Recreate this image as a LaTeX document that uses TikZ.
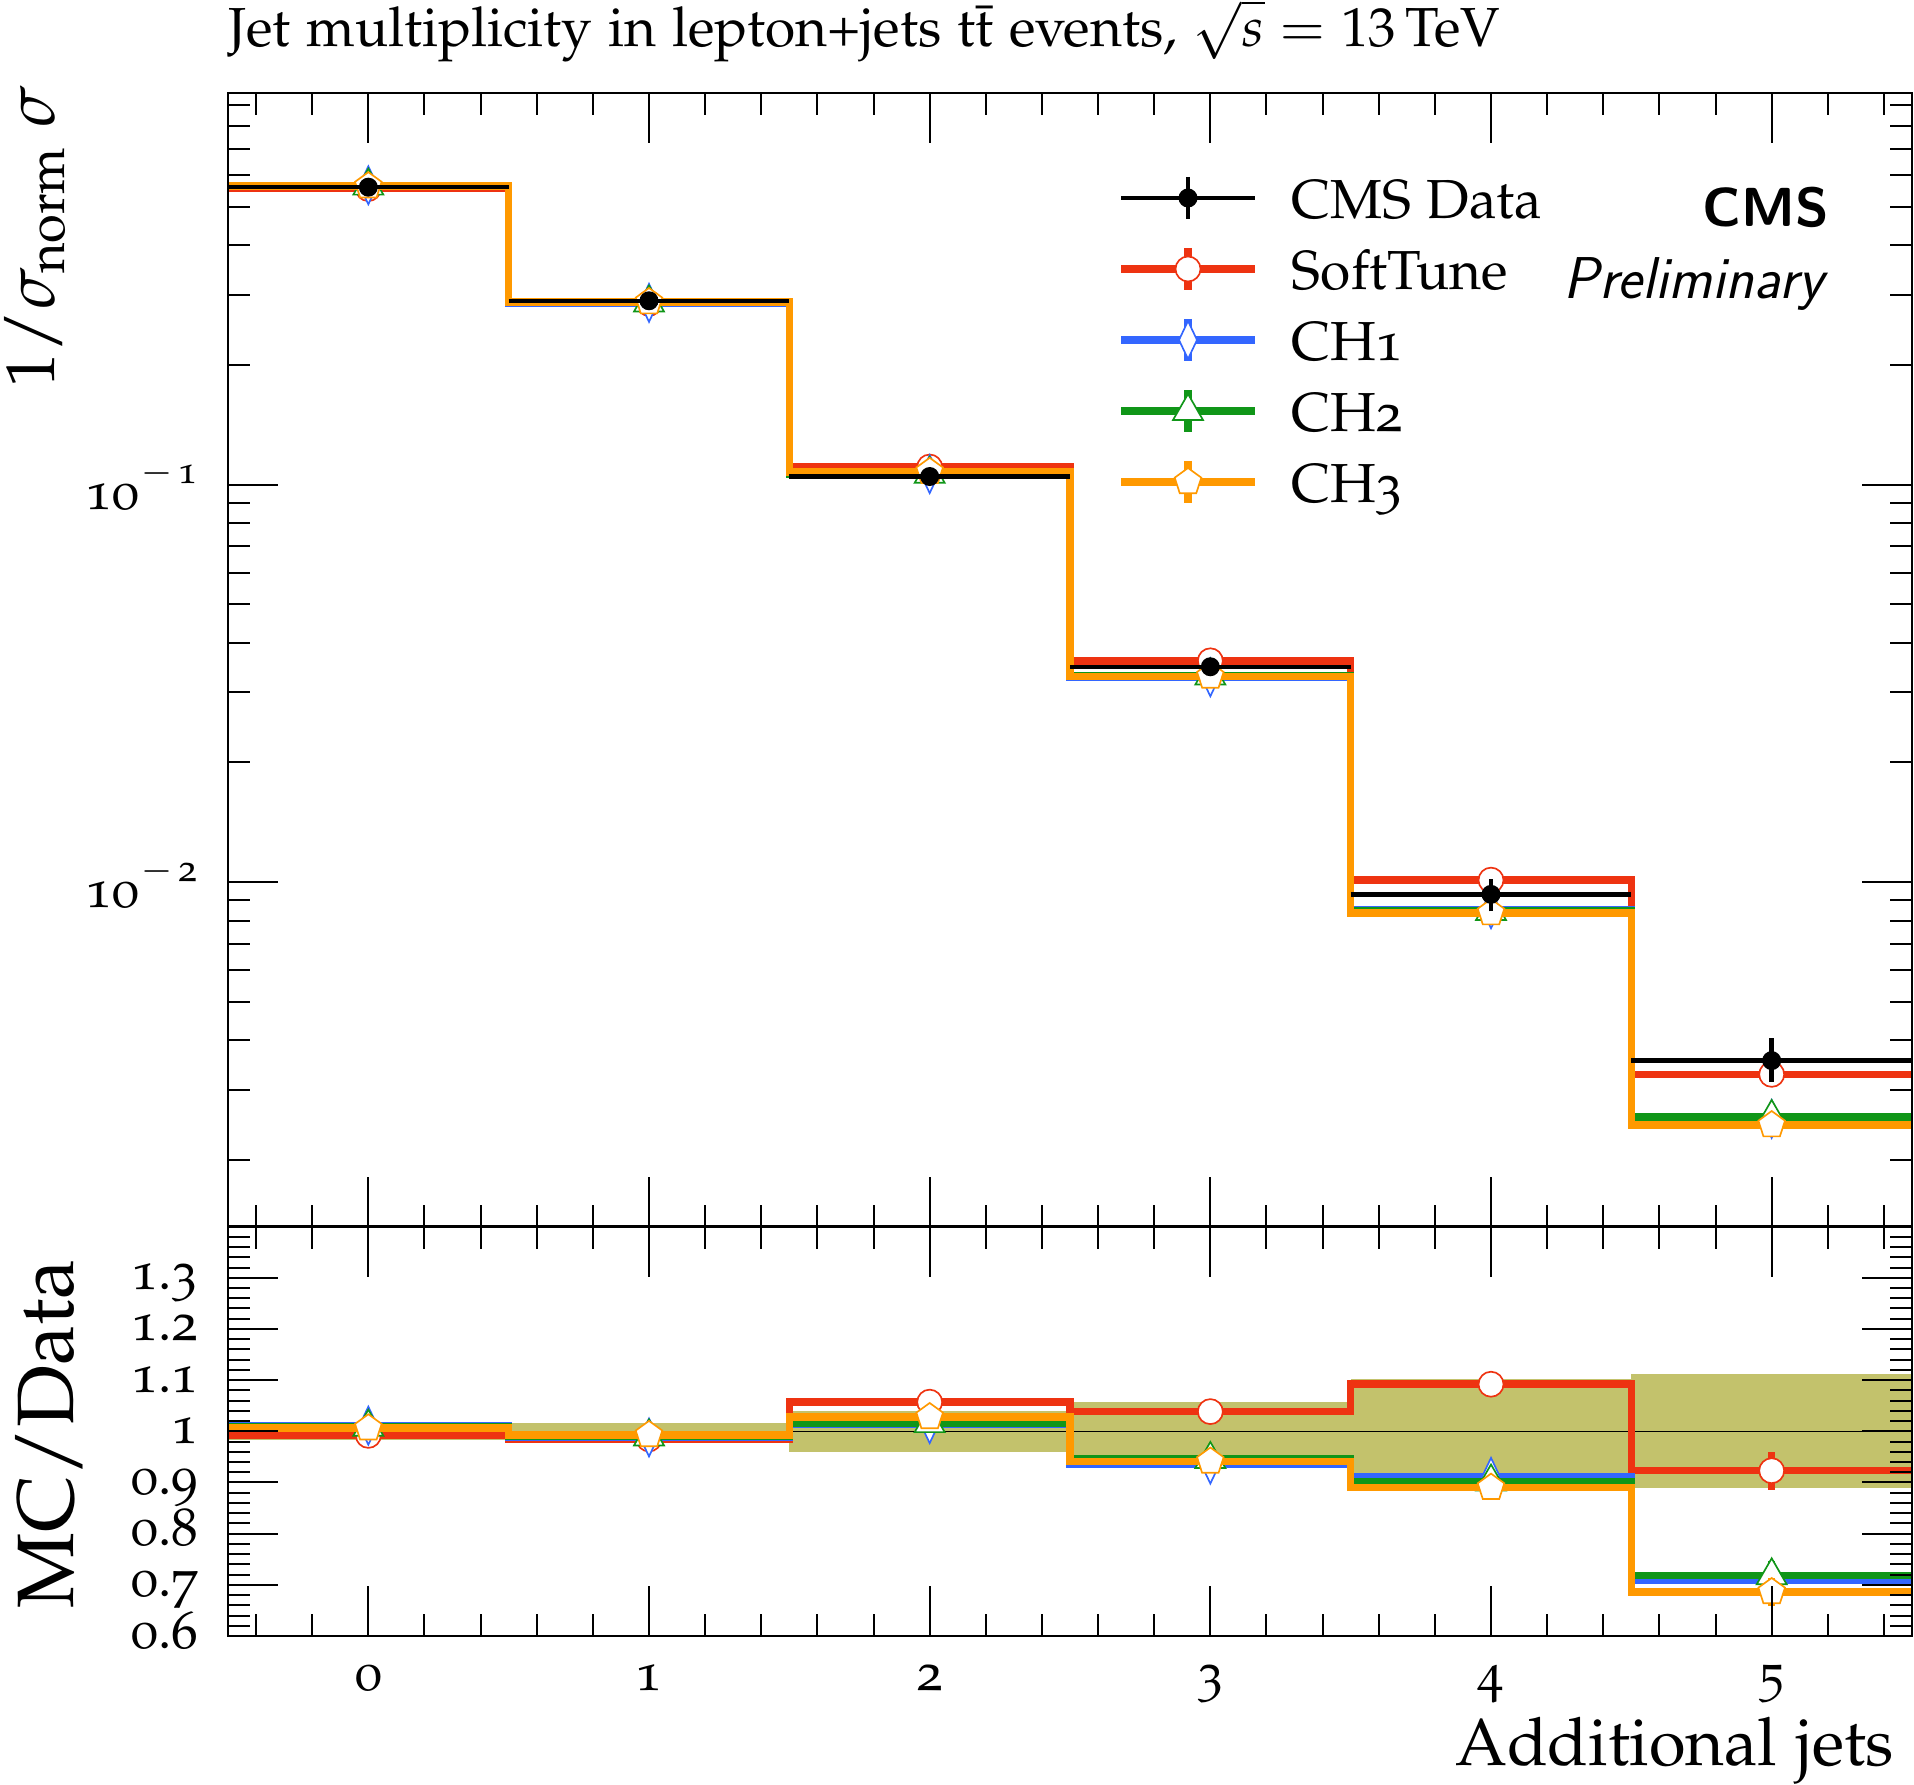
\documentclass[tikz,border=0pt]{standalone}
\usepackage{fix-cm}
\usepackage[T1]{fontenc}
\usepackage[osf]{mathpazo}
\definecolor{cRed}{HTML}{EE3311}
\definecolor{cBlue}{HTML}{3366FF}
\definecolor{cGreen}{HTML}{109618}
\definecolor{cOrange}{HTML}{FF9900}
\definecolor{cBand}{RGB}{195,194,108}
% data values
\def\dA{0.560}\def\dB{0.290}\def\dC{0.1047}\def\dD{0.0342}\def\dE{0.0092}\def\dF{0.00356}
% MC relative errors
\def\eA{0.004}\def\eB{0.006}\def\eC{0.01}\def\eD{0.015}\def\eE{0.022}\def\eF{0.04}
% pixel mappings
\newcommand\pxE[1]{(228+280.6667*(#1))}
\newcommand\pxC[1]{(368.3333+280.6667*(#1))}
\newcommand\pyM[1]{(484.6-397.5*(log10(#1)+1))}
\newcommand\pyR[1]{(1636-511.75*((#1)-0.6))}
\newcommand\supexp[1]{\kern0.6pt\raisebox{7.8pt}{\fontsize{11.5}{11.5}\selectfont$-$\kern1.5pt#1}}
\newcommand\cmsfont{\fontencoding{OT1}\fontfamily{cmss}\selectfont}
\tikzset{
  every node/.style={inner sep=0pt,outer sep=0pt},
  mcline/.style={line width=2.25pt},
  dataline/.style={line width=1.35pt},
  frameline/.style={line width=0.7pt},
  tickline/.style={line width=0.6pt},
  mkstyle/.style={line width=0.5pt,line join=miter},
  ticklab/.style={font=\fontsize{16}{19}\selectfont},
  legtext/.style={font=\fontsize{16.5}{20}\selectfont,anchor=base west},
}
\newcommand\mkCircle[2]{\draw[mkstyle,draw=#1,fill=white] (#2) circle[radius=12.5];}
\newcommand\mkDiamond[2]{\draw[mkstyle,draw=#1,fill=white] (#2) ++(0,-19) -- ++(9,19) -- ++(-9,19) -- ++(-9,-19) -- cycle;}
\newcommand\mkTriangle[2]{\draw[mkstyle,draw=#1,fill=white] (#2) ++(0,-17) -- ++(15,26) -- ++(-30,0) -- cycle;}
\newcommand\mkPentagon[2]{\draw[mkstyle,draw=#1,fill=white] (#2) ++(0,-14) -- ++(13.31,9.67) -- ++(-5.08,15.66) -- ++(-16.46,0) -- ++(-5.08,-15.66) -- cycle;}
% main-panel point: color, marker, bin, value, err
\newcommand\mcPt[5]{%
  \draw[mcline,#1] ({\pxC{#3}},{\pyM{(#4)*(1-#5)}}) -- ({\pxC{#3}},{\pyM{(#4)*(1+#5)}});
  \coordinate (mk) at ({\pxC{#3}},{\pyM{#4}}); #2{#1}{mk}}
% ratio-panel point: color, marker, bin, ratio, err
\newcommand\rcPt[5]{%
  \draw[mcline,#1] ({\pxC{#3}},{\pyR{(#4)*(1-#5)}}) -- ({\pxC{#3}},{\pyR{(#4)*(1+#5)}});
  \coordinate (mk) at ({\pxC{#3}},{\pyR{#4}}); #2{#1}{mk}}
\newcommand\drawMC[8]{%
  \draw[mcline,#1] ({\pxE{0}},{\pyM{\dA*#3}}) -- ({\pxE{1}},{\pyM{\dA*#3}})
    -- ({\pxE{1}},{\pyM{\dB*#4}}) -- ({\pxE{2}},{\pyM{\dB*#4}})
    -- ({\pxE{2}},{\pyM{\dC*#5}}) -- ({\pxE{3}},{\pyM{\dC*#5}})
    -- ({\pxE{3}},{\pyM{\dD*#6}}) -- ({\pxE{4}},{\pyM{\dD*#6}})
    -- ({\pxE{4}},{\pyM{\dE*#7}}) -- ({\pxE{5}},{\pyM{\dE*#7}})
    -- ({\pxE{5}},{\pyM{\dF*#8}}) -- ({\pxE{6}},{\pyM{\dF*#8}});
  \mcPt{#1}{#2}{0}{\dA*#3}{\eA}\mcPt{#1}{#2}{1}{\dB*#4}{\eB}\mcPt{#1}{#2}{2}{\dC*#5}{\eC}
  \mcPt{#1}{#2}{3}{\dD*#6}{\eD}\mcPt{#1}{#2}{4}{\dE*#7}{\eE}\mcPt{#1}{#2}{5}{\dF*#8}{\eF}
  \draw[mcline,#1] ({\pxE{0}},{\pyR{#3}}) -- ({\pxE{1}},{\pyR{#3}})
    -- ({\pxE{1}},{\pyR{#4}}) -- ({\pxE{2}},{\pyR{#4}})
    -- ({\pxE{2}},{\pyR{#5}}) -- ({\pxE{3}},{\pyR{#5}})
    -- ({\pxE{3}},{\pyR{#6}}) -- ({\pxE{4}},{\pyR{#6}})
    -- ({\pxE{4}},{\pyR{#7}}) -- ({\pxE{5}},{\pyR{#7}})
    -- ({\pxE{5}},{\pyR{#8}}) -- ({\pxE{6}},{\pyR{#8}});
  \rcPt{#1}{#2}{0}{#3}{\eA}\rcPt{#1}{#2}{1}{#4}{\eB}\rcPt{#1}{#2}{2}{#5}{\eC}
  \rcPt{#1}{#2}{3}{#6}{\eD}\rcPt{#1}{#2}{4}{#7}{\eE}\rcPt{#1}{#2}{5}{#8}{\eF}}
\begin{document}
\begin{tikzpicture}[x=0.3pt,y=-0.3pt]
\useasboundingbox (0,0) rectangle (1914,1785);
% ratio band
\foreach \i/\hu/\hd in {0/0.017/0.017,1/0.017/0.017,2/0.04/0.04,3/0.058/0.05,4/0.103/0.10,5/0.112/0.111}
  \fill[cBand] ({\pxE{\i}},{\pyR{1+\hu}}) rectangle ({\pxE{\i+1}},{\pyR{1-\hd}});
\draw[line width=0.45pt] (228,{\pyR{1}}) -- (1912,{\pyR{1}});
% MC histograms
\drawMC{cRed}{\mkCircle}{0.992}{0.985}{1.057}{1.0385}{1.092}{0.923}
\drawMC{cBlue}{\mkDiamond}{1.011}{0.988}{1.014}{0.935}{0.911}{0.709}
\drawMC{cGreen}{\mkTriangle}{1.009}{0.990}{1.016}{0.946}{0.902}{0.7186}
\drawMC{cOrange}{\mkPentagon}{1.006}{0.993}{1.028}{0.941}{0.890}{0.686}
% data
\foreach \i/\dv/\ev in {0/0.560/0.017,1/0.290/0.017,2/0.1047/0.04,3/0.0342/0.053,4/0.0092/0.101,5/0.00356/0.112}{
  \draw[dataline] ({\pxE{\i}},{\pyM{\dv}}) -- ({\pxE{\i+1}},{\pyM{\dv}});
  \draw[dataline] ({\pxC{\i}},{\pyM{\dv*(1-\ev)}}) -- ({\pxC{\i}},{\pyM{\dv*(1+\ev)}});
  \fill ({\pxC{\i}},{\pyM{\dv}}) circle[radius=9.5];
}
% frames
\draw[frameline] (228,92.9) rectangle (1912,1226.6);
\draw[frameline] (228,1226.6) rectangle (1912,1636);
% x ticks
\foreach \m in {0,...,29}{
  \pgfmathsetmacro\tx{228+280.6667*(0.1+0.2*\m)}
  \pgfmathsetmacro\tl{ifthenelse(mod(\m,5)==2,50,22)}
  \draw[tickline] (\tx,92.9) -- ++(0,\tl);
  \draw[tickline] (\tx,1226.6) -- ++(0,-\tl);
  \draw[tickline] (\tx,1226.6) -- ++(0,\tl);
  \draw[tickline] (\tx,1636) -- ++(0,-\tl);
}
% log y ticks
\foreach \ex in {-3,-2,-1}{\foreach \n in {1,...,9}{
  \pgfmathsetmacro\ty{484.6-397.5*(log10(\n)+\ex+1)}
  \pgfmathtruncatemacro\ok{and(\ty>95,\ty<1224)}
  \ifnum\ok=1
    \pgfmathsetmacro\tl{ifthenelse(\n==1,50,22)}
    \draw[tickline] (228,\ty) -- ++(\tl,0);
    \draw[tickline] (1912,\ty) -- ++(-\tl,0);
  \fi}}
% ratio y ticks
\foreach \j in {1,...,39}{
  \pgfmathsetmacro\ty{1636-10.235*\j}
  \pgfmathsetmacro\tl{ifthenelse(mod(\j,5)==0,50,22)}
  \draw[tickline] (228,\ty) -- ++(\tl,0);
  \draw[tickline] (1912,\ty) -- ++(-\tl,0);
}
% tick labels
\foreach \i in {0,...,5}
  \node[ticklab,anchor=base] (xl\i) at ({\pxC{\i}},1690.7) {\i};
\foreach \v/\t [count=\c] in {0.6/0.6,0.7/0.7,0.8/0.8,0.9/0.9,1/1,1.1/1.1,1.2/1.2,1.3/1.3}
  \node[ticklab,anchor=base east] (rl\c) at (198,{\pyR{\v}+12}) {\t};
\node[ticklab,anchor=base east] (ymA) at (197,509.6) {10\supexp{1}};
\node[ticklab,anchor=base east] (ymB) at (197,907.1) {10\supexp{2}};
% axis labels and title
\node[anchor=base west,font=\fontsize{16.5}{19}\selectfont] (title) at (228,46.4)
  {Jet multiplicity in lepton+jets $\mathrm{t\bar{t}}$ events, $\sqrt{s} = 13\,\mathrm{TeV}$};
\node[rotate=90,anchor=base east,font=\fontsize{20.7}{24}\selectfont] (ylab) at (54,86)
  {$1/\sigma_{\mathrm{norm}}\;\sigma$};
\node[rotate=90,anchor=base east,font=\fontsize{24}{28}\selectfont] (rlab) at (73.7,1259.7) {MC/Data};
\node[anchor=base east,font=\fontsize{20}{24}\selectfont] (xlab) at (1894,1765.3) {Additional jets};
% CMS label
\node[anchor=base east,font=\fontsize{16.5}{19}\cmsfont\bfseries] (cms) at (1829,227) {CMS};
\node[anchor=base east,font=\fontsize{17.7}{21}\cmsfont\slshape] (prel) at (1824,299) {Preliminary};
% legend
\draw[dataline] (1121,198) -- (1255,198);
\draw[dataline] (1188,177) -- (1188,219);
\fill (1188,198) circle[radius=9.5];
\node[legtext] (lgA) at (1291,219) {CMS Data};
\draw[mcline,cRed] (1121,269) -- (1255,269);
\draw[mcline,cRed] (1188,248) -- (1188,290);
\coordinate (lmB) at (1188,269); \mkCircle{cRed}{lmB}
\node[legtext] (lgB) at (1291,290) {SoftTune};
\draw[mcline,cBlue] (1121,340) -- (1255,340);
\draw[mcline,cBlue] (1188,319) -- (1188,361);
\coordinate (lmC) at (1188,340); \mkDiamond{cBlue}{lmC}
\node[legtext] (lgC) at (1291,361) {CH1};
\draw[mcline,cGreen] (1121,411) -- (1255,411);
\draw[mcline,cGreen] (1188,390) -- (1188,432);
\coordinate (lmD) at (1188,411); \mkTriangle{cGreen}{lmD}
\node[legtext] (lgD) at (1291,432) {CH2};
\draw[mcline,cOrange] (1121,482) -- (1255,482);
\draw[mcline,cOrange] (1188,461) -- (1188,503);
\coordinate (lmE) at (1188,482); \mkPentagon{cOrange}{lmE}
\node[legtext] (lgE) at (1291,503) {CH3};
\end{tikzpicture}
\end{document}
